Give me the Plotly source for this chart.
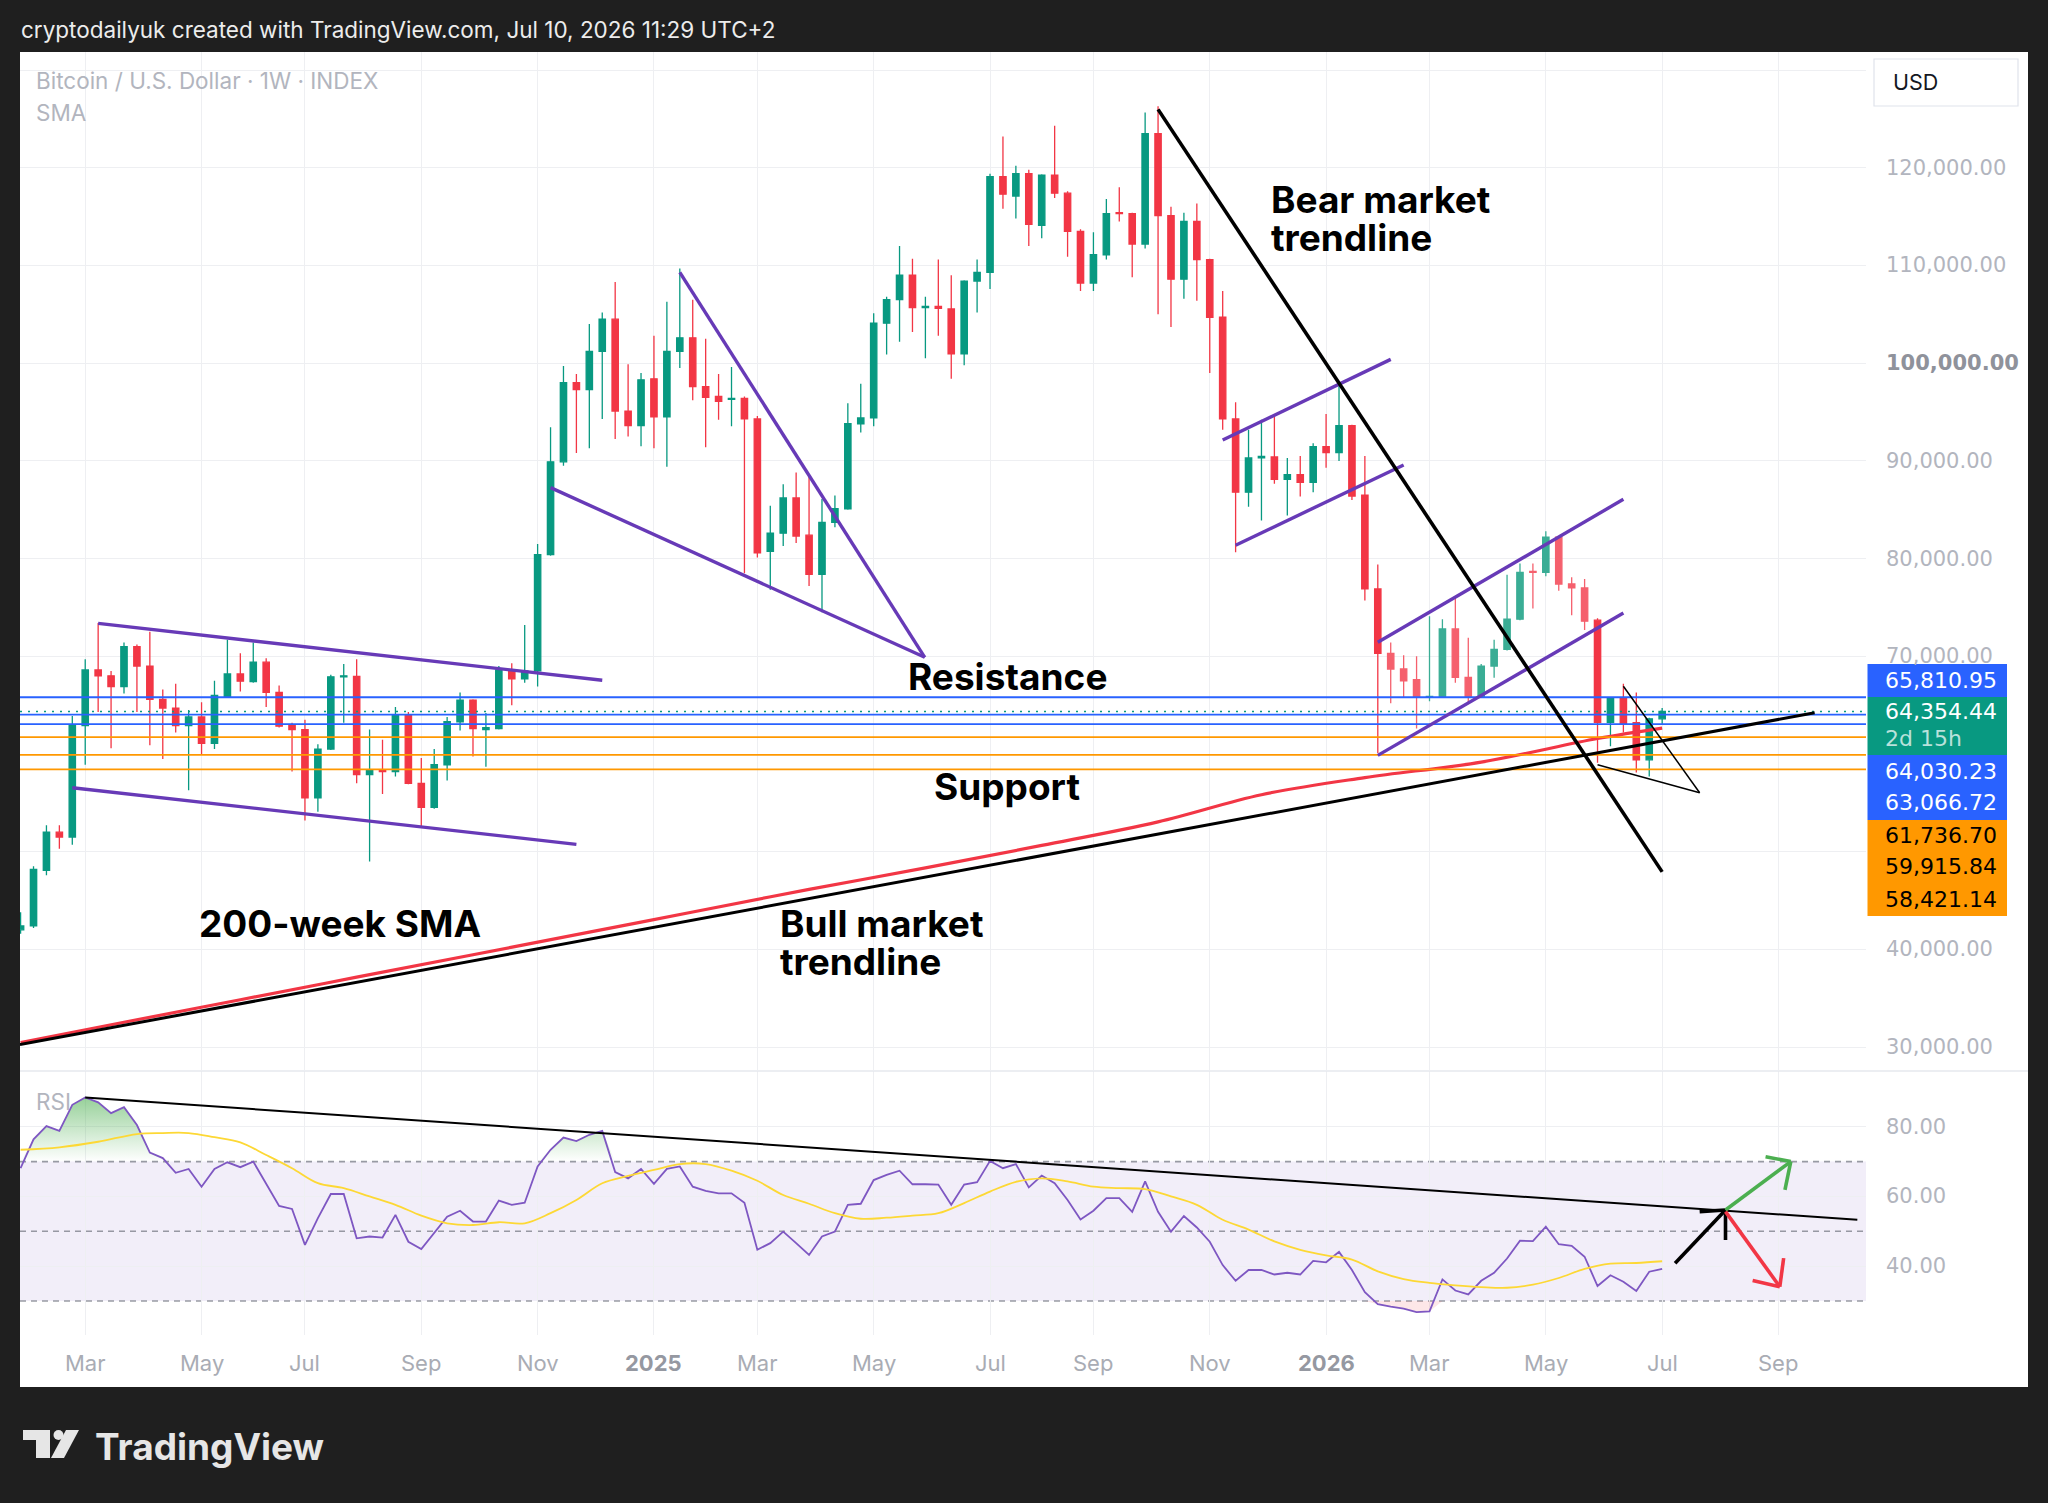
import datetime as dt
import numpy as np
import plotly.graph_objects as go

W, H = 2048, 1503
START = dt.datetime(2024, 1, 29)          # first weekly bar
GREEN, RED = "#089981", "#f23645"
GREEN_F, RED_F = "#3aad95", "#f5606d"
BLUE, ORANGE, PURPLE = "#2962ff", "#ff9800", "#673ab7"

# ---------------- weekly OHLC (thousands USD) ----------------
open_k = [42.0, 42.4, 48.1, 52.0, 51.5, 62.9, 68.6, 68.0, 66.9, 71.0,
          69.0, 65.6, 64.7, 62.9, 63.8, 61.1, 65.9, 68.2, 67.4, 69.4,
          66.3, 63.0, 62.5, 55.5, 60.5, 67.9, 67.95, 57.9, 58.4, 58.2,
          64.0, 57.0, 54.55, 58.9, 63.3, 65.5, 62.5, 62.6, 68.6, 67.7,
          68.5, 80.4, 89.9, 98.0, 97.3, 101.2, 104.5, 95.1, 93.6, 98.4,
          94.5, 101.2, 102.6, 97.6, 96.6, 96.3, 96.4, 94.3, 80.75, 82.6,
          86.2, 82.4, 78.4, 83.7, 85.1, 93.8, 94.4, 104.1, 106.5, 109.0,
          105.7, 105.8, 105.55, 100.95, 108.4, 109.3, 119.1, 117.1, 119.4, 114.1,
          119.25, 117.4, 113.5, 108.2, 111.1, 115.4, 115.3, 112.2, 123.5, 115.1,
          108.6, 114.5, 110.6, 104.7, 94.3, 86.8, 90.3, 90.4, 88.1, 88.6,
          87.8, 91.47, 90.85, 93.6, 86.5, 76.9, 70.3, 68.7, 67.6, 65.8,
          65.9, 72.8, 67.85, 65.9, 69.0, 70.7, 73.8, 78.7, 78.6, 82.2,
          77.4, 77.0, 73.7, 63.25, 65.7, 63.2, 59.4, 63.6]
high_k = [43.8, 48.5, 52.7, 52.7, 63.9, 69.7, 73.4, 68.5, 71.4, 71.2,
          72.5, 66.6, 67.2, 64.5, 65.3, 67.5, 71.7, 70.3, 71.4, 69.8,
          67.0, 63.2, 63.5, 61.0, 68.1, 69.2, 69.7, 62.5, 61.45, 64.8,
          64.3, 59.6, 60.5, 63.8, 66.3, 65.6, 64.2, 69.0, 69.3, 73.2,
          81.5, 93.45, 99.7, 98.9, 104.0, 105.2, 108.3, 99.9, 99.0, 102.8,
          106.3, 109.7, 106.5, 102.5, 98.9, 99.6, 96.6, 94.6, 85.4, 87.6,
          88.8, 88.4, 86.1, 86.45, 95.9, 97.9, 105.1, 106.8, 112.0, 110.7,
          106.8, 110.6, 109.0, 108.5, 110.6, 119.4, 123.2, 120.2, 119.8, 119.35,
          124.3, 117.6, 113.7, 113.4, 116.8, 118.0, 115.4, 125.65, 126.3, 116.0,
          115.4, 116.35, 110.7, 107.4, 96.0, 93.2, 94.2, 94.6, 90.3, 90.5,
          91.8, 94.8, 98.1, 93.7, 90.5, 79.4, 71.4, 70.1, 70.0, 74.1,
          73.8, 76.0, 71.9, 69.2, 71.7, 78.35, 79.5, 79.5, 82.8, 82.3,
          78.1, 77.9, 73.9, 65.8, 67.2, 66.3, 63.7, 64.7]
low_k = [41.6, 42.2, 47.6, 50.3, 50.7, 58.9, 64.3, 60.6, 66.2, 64.3,
         60.9, 59.5, 62.2, 56.3, 60.0, 60.5, 65.8, 66.4, 67.3, 64.8,
         62.7, 58.2, 53.2, 54.1, 60.4, 63.2, 57.0, 49.0, 55.9, 57.7,
         56.9, 52.6, 54.4, 57.3, 62.4, 59.75, 58.7, 62.5, 65.0, 67.3,
         66.9, 80.3, 89.5, 90.8, 91.3, 94.3, 92.25, 92.5, 91.5, 91.3,
         89.4, 99.5, 96.2, 91.4, 94.2, 93.55, 78.5, 80.1, 76.8, 81.3,
         81.6, 77.2, 74.5, 83.2, 85.0, 92.9, 93.55, 100.9, 102.2, 103.2,
         100.5, 102.8, 98.4, 99.8, 105.2, 107.6, 115.8, 114.8, 112.0, 112.8,
         116.9, 110.9, 107.4, 107.4, 110.6, 114.5, 108.8, 111.75, 105.0, 103.7,
         106.6, 106.4, 99.0, 93.2, 80.66, 85.3, 83.9, 87.65, 84.4, 86.35,
         86.8, 89.3, 90.0, 86.0, 75.7, 60.1, 65.2, 65.8, 62.6, 65.4,
         65.8, 67.3, 65.1, 65.8, 67.8, 70.6, 73.7, 74.9, 78.2, 76.7,
         74.2, 72.7, 59.1, 60.8, 62.2, 58.1, 57.7, 63.0]
close_k = [42.4, 48.2, 52.0, 51.5, 62.9, 68.6, 68.0, 66.9, 71.0, 69.0,
           65.6, 64.7, 62.9, 63.8, 61.1, 66.0, 68.2, 67.45, 69.4, 66.3,
           62.85, 62.5, 55.5, 60.5, 67.9, 68.0, 57.9, 58.4, 58.2, 64.0,
           57.0, 54.55, 58.9, 63.3, 65.5, 62.6, 62.7, 68.6, 67.7, 68.5,
           80.4, 89.9, 98.0, 97.3, 101.2, 104.5, 95.1, 93.6, 98.3, 94.5,
           101.2, 102.6, 97.6, 96.5, 96.1, 96.4, 94.3, 80.6, 82.6, 86.2,
           82.3, 78.4, 83.7, 85.1, 93.8, 94.4, 104.1, 106.5, 109.0, 105.7,
           105.8, 105.6, 100.95, 108.4, 109.3, 119.1, 117.3, 119.4, 114.2, 119.25,
           117.4, 113.5, 108.2, 111.1, 115.3, 115.3, 112.2, 123.5, 115.1, 108.6,
           114.5, 110.6, 104.7, 94.3, 86.8, 90.3, 90.45, 88.1, 88.6, 87.8,
           91.47, 90.85, 93.6, 86.4, 76.9, 70.3, 68.7, 67.5, 65.8, 65.9,
           72.8, 67.85, 65.9, 69.0, 70.7, 73.8, 78.6, 78.6, 82.2, 77.4,
           77.0, 73.6, 63.25, 65.7, 63.1, 59.4, 63.6, 64.35]
faded_bars = list(range(106, 122))   # bars drawn in a lighter tint

# 200-week SMA, read at selected bars
sma_bar = [0, 8, 17, 26, 35, 44, 52, 61, 70, 79, 88, 96, 104, 113, 122, 127]
sma_val = [30478, 32541, 34850, 37159, 39457, 41766, 43829, 46138, 48344,
           50643, 53054, 55832, 57589, 59172, 61583, 62655]

# horizontal levels
blue_levels = [65810.95, 64030.23, 63066.72]
orange_levels = [61736.70, 59915.84, 58421.14]
last_price = 64354.44
countdown = "2d 15h"

# RSI (one value per bar) and its moving average (read every other bar)
rsi = [68.1, 76.4, 80.2, 78.8, 86.3, 88.4, 87.0, 83.9, 85.6, 80.5,
       72.6, 71.0, 66.8, 67.9, 62.8, 67.9, 69.8, 68.4, 70.0, 63.8,
       57.3, 56.4, 46.1, 53.8, 60.7, 60.7, 48.0, 48.5, 48.2, 54.7,
       47.0, 44.9, 49.5, 54.2, 55.9, 52.8, 52.8, 58.8, 57.6, 58.2,
       68.6, 73.4, 76.9, 75.9, 77.7, 78.8, 67.0, 65.2, 67.9, 63.6,
       67.9, 68.6, 62.8, 61.6, 60.9, 60.9, 58.2, 44.7, 46.6, 49.9,
       46.6, 43.2, 48.5, 49.9, 57.6, 57.9, 64.7, 66.2, 67.4, 63.5,
       63.5, 63.4, 57.6, 63.4, 64.1, 70.2, 68.1, 69.3, 62.6, 66.0,
       63.8, 59.0, 53.4, 55.9, 59.5, 59.5, 55.6, 64.3, 55.6, 49.9,
       54.4, 51.1, 47.0, 40.3, 35.8, 38.9, 38.9, 37.6, 38.1, 37.6,
       41.5, 41.1, 44.1, 38.9, 32.5, 29.1, 28.4, 27.8, 26.8, 27.0,
       36.2, 33.0, 31.9, 35.8, 38.1, 42.2, 47.3, 47.2, 51.3, 46.3,
       45.8, 42.7, 34.3, 37.4, 35.5, 32.9, 38.4, 39.2]
rsi_ma_bar = [0, 3, 6, 9, 11, 13, 15, 17, 19, 21, 23, 25, 27, 29, 31, 33, 35,
              37, 39, 41, 43, 45, 47, 49, 51, 53, 55, 57, 59, 61, 63, 65, 67,
              69, 71, 73, 75, 77, 79, 81, 83, 85, 87, 89, 91, 93, 95, 97, 99,
              101, 103, 105, 107, 109, 111, 113, 115, 117, 119, 121, 123, 125, 127]
rsi_ma = [73.4, 74.1, 75.7, 77.9, 78.2, 78.2, 77.0, 75.5, 71.9, 68.1, 63.8,
          62.4, 60.0, 57.6, 54.5, 52.3, 51.8, 52.6, 52.3, 55.2, 59.0, 63.8,
          65.9, 67.6, 69.3, 69.3, 67.4, 64.5, 60.4, 57.9, 55.2, 53.6, 53.9,
          54.5, 55.2, 58.1, 61.4, 64.2, 65.2, 64.3, 62.8, 62.4, 62.1, 60.0,
          57.6, 53.3, 50.5, 47.1, 44.7, 43.1, 41.9, 38.5, 36.3, 35.2, 34.5,
          34.0, 33.8, 34.7, 36.6, 39.2, 40.7, 40.9, 41.4]

# drawings: (bar0, price0, bar1, price1)
purple_lines = [(6.0, 73371, 45.0, 67548), (4.0, 56547, 43.0, 50755),
                (41.0, 87263, 69.95, 69898), (51.0, 109297, 69.95, 69898),
                (93.0, 92136, 106.0, 100390), (94.0, 81369, 107.0, 89582),
                (105.0, 71430, 124.0, 86068), (105.0, 59857, 124.0, 74423)]
bull_line = (-0.05, 30264, 138.8, 64229)
bear_line = (88.0, 125978, 127.0, 47936)
thin_lines = [(124.0, 66935, 129.9, 56036), (122.0, 58896, 129.9, 56036)]
rsi_trend = (5.0, 88.4, 142.1, 53.3)
arrows = [  # colour, shaft (b0,v0,b1,v1), head strokes from tip
    ("#000000", (128.0, 40.85, 131.9, 56.1), [(129.9, 55.65), (131.9, 47.5)]),
    ("#4caf50", (131.9, 56.1, 136.95, 70.0), [(135.0, 71.4), (136.5, 61.9)]),
    ("#f23645", (131.9, 55.65, 136.1, 34.1), [(134.0, 35.85), (136.4, 42.3)]),
]

price_ticks = [30000, 40000, 70000, 80000, 90000, 100000, 110000, 120000]
rsi_ticks = [40, 60, 80]
month_dates = ["2024-03-04", "2024-05-06", "2024-07-01", "2024-09-02", "2024-11-04",
               "2025-01-06", "2025-03-03", "2025-05-05", "2025-07-07", "2025-09-01",
               "2025-11-03", "2026-01-05", "2026-03-02", "2026-05-04", "2026-07-06",
               "2026-09-07"]
month_labels = ["Mar", "May", "Jul", "Sep", "Nov", "2025", "Mar", "May", "Jul", "Sep",
                "Nov", "2026", "Mar", "May", "Jul", "Sep"]

# ---------------- helpers ----------------
def d(b):
    return (START + dt.timedelta(days=7 * b)).strftime("%Y-%m-%d %H:%M:%S")

def px(x):
    return x / W

def py(y):
    return 1 - y / H

FONT = "Inter, Roboto, sans-serif"
NUMF = "DejaVu Sans, Inter, sans-serif"
n = len(close_k)
dates = [d(i) for i in range(n)]
O = np.array(open_k) * 1000
Hh = np.array(high_k) * 1000
L = np.array(low_k) * 1000
C = np.array(close_k) * 1000
main_idx = [i for i in range(n) if i not in faded_bars]

fig = go.Figure()

def candle(idx, g, r):
    return go.Candlestick(
        x=[dates[i] for i in idx], open=O[idx], high=Hh[idx], low=L[idx], close=C[idx],
        increasing=dict(line=dict(color=g, width=1.3), fillcolor=g),
        decreasing=dict(line=dict(color=r, width=1.3), fillcolor=r),
        whiskerwidth=0, showlegend=False, hoverinfo="skip", xaxis="x", yaxis="y")

fig.add_trace(candle(main_idx, GREEN, RED))
fig.add_trace(candle(faded_bars, GREEN_F, RED_F))
fig.add_trace(go.Scatter(x=[d(b) for b in sma_bar], y=sma_val, mode="lines",
                         line=dict(color=RED, width=3.2, shape="spline"),
                         showlegend=False, hoverinfo="skip", xaxis="x", yaxis="y"))

rsi_a = np.array(rsi)
fig.add_trace(go.Scatter(x=dates, y=[70] * n, mode="lines", line=dict(width=0),
                         showlegend=False, hoverinfo="skip", xaxis="x2", yaxis="y2"))
fig.add_trace(go.Scatter(x=dates, y=np.maximum(rsi_a, 70), mode="lines", line=dict(width=0),
                         fill="tonexty",
                         fillgradient=dict(type="vertical", start=70, stop=89,
                                           colorscale=[[0, "rgba(76,175,80,0.0)"],
                                                       [1, "rgba(76,175,80,0.6)"]]),
                         showlegend=False, hoverinfo="skip", xaxis="x2", yaxis="y2"))
fig.add_trace(go.Scatter(x=dates, y=[30] * n, mode="lines", line=dict(width=0),
                         showlegend=False, hoverinfo="skip", xaxis="x2", yaxis="y2"))
fig.add_trace(go.Scatter(x=dates, y=np.minimum(rsi_a, 30), mode="lines", line=dict(width=0),
                         fill="tonexty", fillcolor="rgba(242,54,69,0.12)",
                         showlegend=False, hoverinfo="skip", xaxis="x2", yaxis="y2"))
fig.add_trace(go.Scatter(x=dates, y=rsi, mode="lines", line=dict(color="#7e57c2", width=1.8),
                         showlegend=False, hoverinfo="skip", xaxis="x2", yaxis="y2"))
fig.add_trace(go.Scatter(x=[d(b) for b in rsi_ma_bar], y=rsi_ma, mode="lines",
                         line=dict(color="#fdd835", width=1.8, shape="spline"),
                         showlegend=False, hoverinfo="skip", xaxis="x2", yaxis="y2"))

# ---------------- shapes ----------------
shapes = []
shapes.append(dict(type="rect", xref="paper", yref="paper", x0=px(20), x1=px(2028),
                   y0=py(1387), y1=py(52), fillcolor="#ffffff", line=dict(width=0), layer="below"))
shapes.append(dict(type="rect", xref="paper", yref="y2", x0=px(20), x1=px(1866), y0=30, y1=70,
                   fillcolor="rgba(126,87,194,0.10)", line=dict(width=0), layer="below"))
for v in (70, 50, 30):
    shapes.append(dict(type="line", xref="paper", yref="y2", x0=px(20), x1=px(1866), y0=v, y1=v,
                       line=dict(color="rgba(120,123,134,0.75)", width=1.6, dash="6px,5px"),
                       layer="below"))
shapes.append(dict(type="line", xref="paper", yref="paper", x0=px(20), x1=px(2028),
                   y0=py(1071), y1=py(1071), line=dict(color="#e6e8ee", width=1.5)))
for v in blue_levels:
    shapes.append(dict(type="line", xref="paper", yref="y", x0=px(20), x1=px(1866), y0=v, y1=v,
                       line=dict(color=BLUE, width=1.8), layer="above"))
for v in orange_levels:
    shapes.append(dict(type="line", xref="paper", yref="y", x0=px(20), x1=px(1866), y0=v, y1=v,
                       line=dict(color=ORANGE, width=1.8), layer="above"))
shapes.append(dict(type="line", xref="paper", yref="y", x0=px(20), x1=px(1866),
                   y0=last_price, y1=last_price,
                   line=dict(color=GREEN, width=1.6, dash="2px,6px"), layer="above"))

def seg(b0, v0, b1, v1, color, width, ax="", dash=None):
    ln = dict(color=color, width=width)
    if dash:
        ln["dash"] = dash
    return dict(type="line", xref="x" + ax, yref="y" + ax, x0=d(b0), y0=v0, x1=d(b1), y1=v1,
                line=ln, layer="above")

for (b0, v0, b1, v1) in purple_lines:
    shapes.append(seg(b0, v0, b1, v1, PURPLE, 3.4))
shapes.append(seg(*bull_line, "#000000", 3.0))
shapes.append(seg(*bear_line, "#000000", 3.6))
for t in thin_lines:
    shapes.append(seg(*t, "#000000", 1.5))
shapes.append(seg(*rsi_trend, "#000000", 2.0, ax="2"))
for col, (b0, v0, b1, v1), heads in arrows:
    shapes.append(seg(b0, v0, b1, v1, col, 3.6, ax="2"))
    for hb, hv in heads:
        shapes.append(seg(b1, v1, hb, hv, col, 3.6, ax="2"))

# price label boxes
boxes = [(664, 697, BLUE), (697, 755, GREEN), (755, 820, BLUE), (820, 916, ORANGE)]
for y0, y1, col in boxes:
    shapes.append(dict(type="rect", xref="paper", yref="paper", x0=px(1867.5), x1=px(2007),
                       y0=py(y1), y1=py(y0), fillcolor=col, line=dict(width=0), layer="above"))
# USD box
shapes.append(dict(type="rect", xref="paper", yref="paper", x0=px(1874), x1=px(2018),
                   y0=py(106), y1=py(59), fillcolor="#ffffff",
                   line=dict(color="#e0e3eb", width=1.2), layer="above"))
# TradingView logo glyph
LOGO = "#e6e6e6"
shapes.append(dict(type="rect", xref="paper", yref="paper", x0=px(23), x1=px(50),
                   y0=py(1440), y1=py(1430), fillcolor=LOGO, line=dict(width=0)))
shapes.append(dict(type="rect", xref="paper", yref="paper", x0=px(36), x1=px(50),
                   y0=py(1458), y1=py(1430), fillcolor=LOGO, line=dict(width=0)))
shapes.append(dict(type="circle", xref="paper", yref="paper", x0=px(53.5), x1=px(63.5),
                   y0=py(1440), y1=py(1430), fillcolor=LOGO, line=dict(width=0)))
path = "M {:.5f},{:.5f} L {:.5f},{:.5f} L {:.5f},{:.5f} L {:.5f},{:.5f} Z".format(
    px(66), py(1430), px(79), py(1430), px(64), py(1458), px(51), py(1458))
shapes.append(dict(type="path", xref="paper", yref="paper", path=path, fillcolor=LOGO,
                   line=dict(width=0)))

# ---------------- annotations ----------------
ann = []

def text(x, y, s, size, color, xanchor="left", bold=False, xref="paper", yref="paper",
         family=FONT):
    ann.append(dict(x=x, y=y, xref=xref, yref=yref, text=("<b>%s</b>" % s) if bold else s,
                    showarrow=False, xanchor=xanchor, yanchor="middle", align="left",
                    font=dict(family=family, size=size, color=color)))

text(px(19), py(30), "cryptodailyuk created with TradingView.com, Jul 10, 2026 11:29 UTC+2",
     22.5, "#ececec")
text(px(34), py(81), "Bitcoin / U.S. Dollar · 1W · INDEX", 22.5, "#b2b5be")
text(px(34), py(113), "SMA", 22.5, "#b2b5be")
text(px(34), py(1101), "RSI", 22.5, "#b2b5be")
text(px(1891), py(82), "USD", 21.5, "#131722")
text(px(22 + 71), py(1446), "TradingView", 37, LOGO, bold=True)

LABX = px(1884)
for v in price_ticks:
    lab = "{:,.2f}".format(v)
    if v == 100000:
        text(LABX, v, lab, 21, "#8f929b", bold=True, yref="y", family=NUMF)
    else:
        text(LABX, v, lab, 21, "#b2b5be", yref="y", family=NUMF)
for v in rsi_ticks:
    text(LABX, v, "{:.2f}".format(v), 21, "#b2b5be", yref="y2", family=NUMF)
for dd, lab in zip(month_dates, month_labels):
    if lab.isdigit():
        text(dd, py(1363), lab, 22, "#9598a1", xanchor="center", bold=True, xref="x2")
    else:
        text(dd, py(1363), lab, 22, "#a9acb4", xanchor="center", xref="x2")

# price label box texts
BX = px(1883)
text(BX, py(680), "{:,.2f}".format(blue_levels[0]), 22, "#ffffff", family=NUMF)
text(BX, py(711.5), "{:,.2f}".format(last_price), 22, "#ffffff", family=NUMF)
text(BX, py(738.5), countdown, 22, "rgba(255,255,255,0.72)", family=NUMF)
text(BX, py(771), "{:,.2f}".format(blue_levels[1]), 22, "#ffffff", family=NUMF)
text(BX, py(802.5), "{:,.2f}".format(blue_levels[2]), 22, "#ffffff", family=NUMF)
for yy, v in zip((835, 866, 899), orange_levels):
    text(BX, py(yy), "{:,.2f}".format(v), 22, "#000000", family=NUMF)

# chart notes
NOTE = 37
def two_lines(a, b):
    sp = "<span style='font-size:%dpx'><b>%s</b></span>"
    return (sp % (NOTE, a)) + "<br>" + (sp % (NOTE, b))

text(px(1269), py(219), two_lines("Bear market", "trendline"), 29.2, "#000000")
text(px(906), py(676), "Resistance", NOTE, "#000000", bold=True)
text(px(932), py(787), "Support", NOTE, "#000000", bold=True)
text(px(197), py(923), "200-week SMA", NOTE, "#000000", bold=True)
text(px(778), py(942), two_lines("Bull market", "trendline"), 29.2, "#000000")

GRID = "#eeeff2"
xr = [d(-0.046), d(142.77)]
fig.update_layout(
    width=W, height=H, margin=dict(l=0, r=0, t=0, b=0),
    paper_bgcolor="#1f1f1f", plot_bgcolor="rgba(0,0,0,0)",
    showlegend=False, shapes=shapes, annotations=ann,
    xaxis=dict(domain=[px(20), px(1866)], range=xr, type="date", tickvals=month_dates,
               showticklabels=False, showgrid=True, gridcolor=GRID, gridwidth=1.3,
               zeroline=False, showline=False, rangeslider=dict(visible=False),
               anchor="y", fixedrange=True),
    yaxis=dict(domain=[py(1070), py(52)], range=[27658, 131850],
               tickvals=list(range(30000, 140000, 10000)), showticklabels=False,
               showgrid=True, gridcolor=GRID, gridwidth=1.3, zeroline=False,
               anchor="x", side="right", fixedrange=True),
    xaxis2=dict(domain=[px(20), px(1866)], range=xr, type="date", tickvals=month_dates,
                showticklabels=False, showgrid=True, gridcolor=GRID, gridwidth=1.3,
                zeroline=False, showline=False, anchor="y2", fixedrange=True),
    yaxis2=dict(domain=[py(1335), py(1071)], range=[20.24, 96.0], tickvals=rsi_ticks,
                showticklabels=False, showgrid=True, gridcolor=GRID, gridwidth=1.3,
                zeroline=False, anchor="x2", side="right", fixedrange=True),
)

fig.write_html("out.html", config={"displayModeBar": False},
               post_script="document.body.style.margin='0';document.body.style.overflow='hidden';")
